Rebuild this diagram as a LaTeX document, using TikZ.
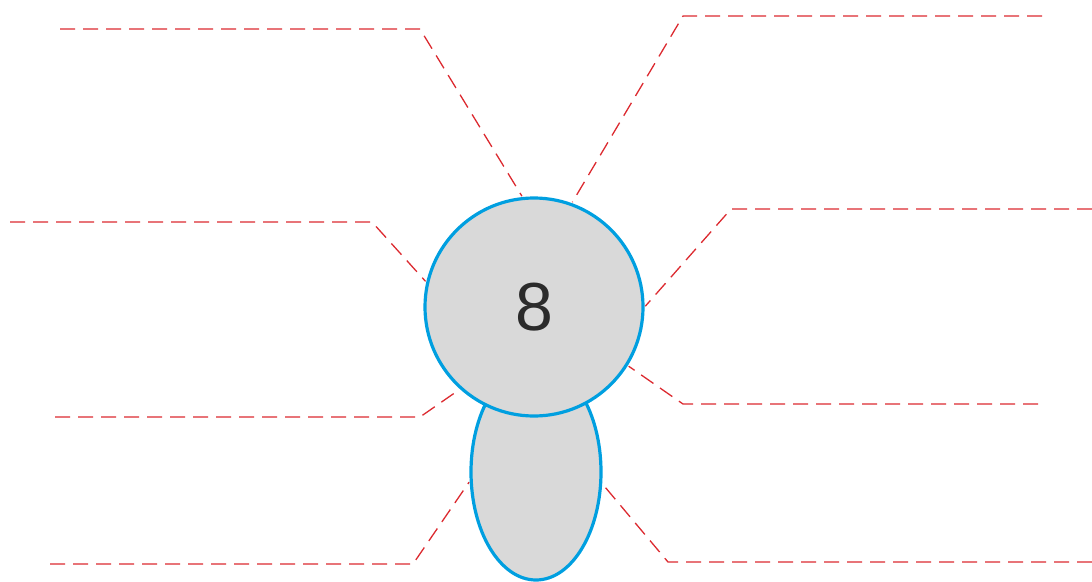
\documentclass[tikz,border=0pt]{standalone}
\usepackage{fontspec}
\setsansfont{Liberation Sans}
\usepackage{tikz}
\usetikzlibrary{shapes.geometric,positioning}

\definecolor{bodyblue}{HTML}{009FE0}
\definecolor{bodygray}{HTML}{D9D9D9}
\definecolor{leadred}{HTML}{DC2A30}
\definecolor{digitgray}{HTML}{2B2B2B}

\begin{document}
\begin{tikzpicture}[
    x=1pt, y=-1pt,
    part/.style={draw=bodyblue, fill=bodygray, line width=3.2pt, inner sep=0pt},
    leader/.style={draw=leadred, line width=1.3pt, dash pattern=on 15pt off 8pt, shorten >=1pt}
]
\useasboundingbox (0,0) rectangle (1092,581);

% body and head
\node[part, ellipse, minimum width=130pt, minimum height=216pt] (body) at (536,472) {};
\node[part, circle, minimum size=218pt, font=\sffamily\fontsize{68}{70}\selectfont, text=digitgray] (head) at (534,307) {8};

% free ends and bends of the leader lines
\coordinate (tl) at (60,29);    \coordinate (tlb) at (420,29);
\coordinate (tr) at (1042,16);  \coordinate (trb) at (683,16);
\coordinate (ml) at (10,222);   \coordinate (mlb) at (372,222);
\coordinate (mr) at (1092,209); \coordinate (mrb) at (731,209);
\coordinate (ll) at (55,417);   \coordinate (llb) at (420,417);
\coordinate (lr) at (1038,404); \coordinate (lrb) at (683,404);
\coordinate (bl) at (50,564);   \coordinate (blb) at (413,564);
\coordinate (br) at (1092,562); \coordinate (brb) at (668,562);

% leader lines to the head
\draw[leader] (tl) -- (tlb) -- (head.96);
\draw[leader] (tr) -- (trb) -- (head.70);
\draw[leader] (ml) -- (mlb) -- (head.167);
\draw[leader] (mr) -- (mrb) -- (head.0);
\draw[leader] (ll) -- (llb) -- (head.228);
\draw[leader] (lr) -- (lrb) -- (head.328);

% leader lines to the body
\draw[leader] (bl) -- (blb) -- (body.188);
\draw[leader] (br) -- (brb) -- (body.350);

\end{tikzpicture}
\end{document}
